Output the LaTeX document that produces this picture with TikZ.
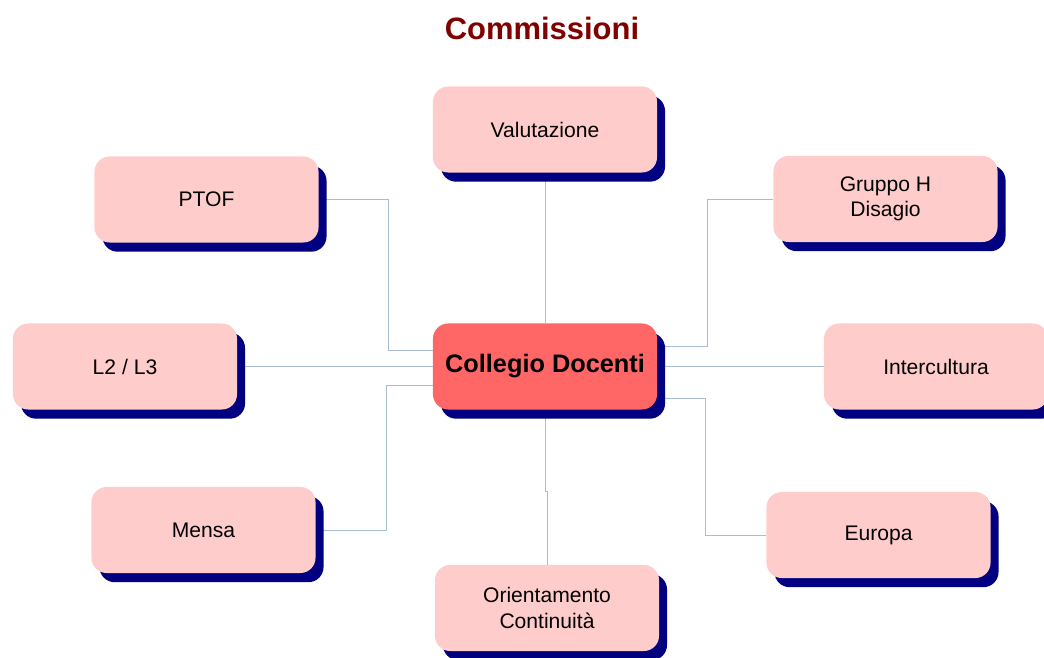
\documentclass[tikz,border=0pt]{standalone}
\usepackage{fontspec}
\setmainfont{Liberation Sans}
\usetikzlibrary{shadows,backgrounds}
\definecolor{T}{RGB}{128, 0, 0}
\definecolor{P}{RGB}{255, 204, 204}
\definecolor{C}{RGB}{255, 102, 102}
\definecolor{N}{RGB}{0, 0, 128}
\definecolor{L}{RGB}{168, 188, 212}
\tikzset{
  comm/.style={rectangle, rounded corners=0.38cm, fill=P,
    minimum width=5.6cm, minimum height=2.15cm, align=center,
    font=\fontsize{15}{18}\selectfont,
    drop shadow={shadow xshift=0.2cm, shadow yshift=-0.23cm, fill=N, opacity=1}},
  centro/.style={comm, fill=C, font=\fontsize{18}{21}\selectfont\bfseries},
  link/.style={draw=L, line width=0.6pt}
}

\begin{document}
\begin{tikzpicture}[x=0.025cm, y=-0.025cm]
  \useasboundingbox (0,0) rectangle (1044,657);
  % Titolo
  \node[text=T, font=\fontsize{22}{26}\selectfont\bfseries] (titolo) at (542,28) {Commissioni};
  % Nodo centrale
  \node[centro] (cd) at (545,366.5) {Collegio Docenti};
  % Commissioni
  \node[comm] (valut) at (545,129.5) {Valutazione};
  \node[comm] (ptof) at (206.5,199.5) {PTOF};
  \node[comm] (gruppo) at (885.5,199) {Gruppo H\\Disagio};
  \node[comm] (lingue) at (125,366.5) {L2 / L3};
  \node[comm] (inter) at (936,366.5) {Intercultura};
  \node[comm] (mensa) at (203.5,530) {Mensa};
  \node[comm] (europa) at (878.5,535) {Europa};
  \node[comm] (orient) at (547,608) {Orientamento\\Continuità};
  % Collegamenti (dietro alle ombre)
  \begin{scope}[on background layer]
    \draw[link] (valut.south) -- (cd.north);
    \draw[link] (ptof.east) -| (388,350) -- (cd.west |- 0,350);
    \draw[link] (lingue.east) -- (cd.west);
    \draw[link] (mensa.east) -| (386,385) -- (cd.west |- 0,385);
    \draw[link] (cd.south) -- ++(0,82) -| (orient.north);
    \draw[link] (cd.east |- 0,346) -| (707,199) -- (gruppo.west);
    \draw[link] (cd.east) -- (inter.west);
    \draw[link] (cd.east |- 0,398) -| (705,535) -- (europa.west);
  \end{scope}
\end{tikzpicture}
\end{document}
